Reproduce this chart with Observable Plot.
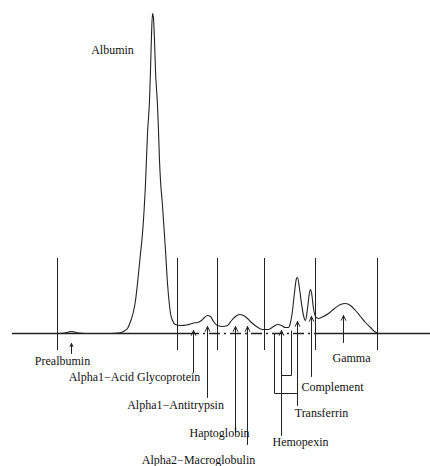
<!DOCTYPE html>
<html>
<head>
<meta charset="utf-8">
<script src="https://cdn.jsdelivr.net/npm/d3@7"></script>
<script src="https://cdn.jsdelivr.net/npm/@observablehq/plot@0.6"></script>
<style>
  html, body { margin: 0; padding: 0; background: #fff; }
  #chart svg { display: block; }
</style>
</head>
<body>
<div id="chart"></div>
<script>
// Densitometry trace: mobility (x) and density (y, 0 = baseline)
const mobility = [12,40,58,64,68,71,74,78,84,110,118,123,127,130,133,135,138,140,142,145,147,149,150,151,152,153,154,155,157,158,159,160,162,165,167,169,170,172,175,180,186,190,193,197,201,204,207,210,213,217,222,227,231,235,239,243,247,251,256,262,268,273,277,281,285,288,290,292,294,296,297,299,301,303,305,307,309,310,311,313,315,318,323,328,334,340,345,350,355,360,365,370,374,378];
const density  = [0,0,0,0.5,1.5,2,1.5,0.5,0,0,0.5,2,5,12,22,33,60,80,100,150,200,233,263,298,320,315,293,263,228,203,173,153,128,83,50,28,20,13,9,8,8.5,9.5,10.5,11,13,16,18,17,12,8,7,8,13,17,19,18,15,11,7,4,4,7,9,8,6,6,11,23,41,55,56,45,30,18,13,25,41,44,41,25,17,15,17,20,25,29,30,28,23,17,11,6,2,0];

// Fraction dividers
const dividerX = [57, 177, 217, 264, 315, 377];
const dividerTop = 75;
const dividerBottom = -17;

// Protein arrows
const proteinNames = ["Prealbumin","Alpha1\u2212Acid Glycoprotein","Alpha1\u2212Antitrypsin","Haptoglobin","Alpha2\u2212Macroglobulin","Hemopexin","Transferrin","Complement","Gamma"];
const arrowX    = [71, 193, 207, 235, 247, 281, 297, 311, 343];
const arrowTip  = [-10, 3, 7, 7, 7, 3, 12, 17, 18];
const arrowTail = [-20, -39, -64, -99, -111, -102, -72, -43, -9];

// Label positions
const labelText = ["Albumin", ...proteinNames];
const labelX = [112, 62, 134, 175, 219, 198, 300, 321, 332, 351];
const labelY = [283, -28, -44, -72, -100, -127, -109, -80, -54, -25];

// Bracket connector segments
const bracketX1 = [274, 274, 291, 281];
const bracketY1 = [0, -60, 3, -42];
const bracketX2 = [274, 297, 291, 291];
const bracketY2 = [-60, -60, -42, -42];

const trace = mobility.map((m, i) => ({m, d: density[i]}));
const arrows = arrowX.map((x, i) => ({x, tip: arrowTip[i], tail: arrowTail[i]}));
const labels = labelText.map((t, i) => ({t, x: labelX[i], y: labelY[i]}));
const brackets = bracketX1.map((x1, i) => ({x1, y1: bracketY1[i], x2: bracketX2[i], y2: bracketY2[i]}));
const dividers = dividerX.map(x => ({x}));

const ink = "#222";

const chart = Plot.plot({
  width: 430,
  height: 466,
  margin: 0,
  x: {domain: [0, 430], axis: null},
  y: {domain: [-133, 333], axis: null},
  style: {background: "#fff", fontFamily: "'Liberation Serif', 'DejaVu Serif', serif", fontSize: "12px"},
  marks: [
    // baseline
    Plot.ruleY([0], {x1: 12, x2: 188, stroke: ink, strokeWidth: 1.3}),
    Plot.ruleY([0], {x1: 188, x2: 320, stroke: ink, strokeWidth: 1.3, strokeDasharray: "11,4,2,4"}),
    Plot.ruleY([0], {x1: 320, x2: 430, stroke: ink, strokeWidth: 1.3}),
    // dividers
    Plot.ruleX(dividers, {x: "x", y1: dividerBottom, y2: dividerTop, stroke: ink, strokeWidth: 1}),
    // trace
    Plot.line(trace, {x: "m", y: "d", curve: "monotone-x", stroke: ink, strokeWidth: 1.1}),
    // brackets
    Plot.link(brackets, {x1: "x1", y1: "y1", x2: "x2", y2: "y2", stroke: ink, strokeWidth: 1}),
    // arrows
    Plot.arrow(arrows, {x1: "x", x2: "x", y1: "tail", y2: "tip", stroke: ink, strokeWidth: 1, headLength: 8, headAngle: 50}),
    // labels
    Plot.text(labels, {x: "x", y: "y", text: "t", fill: "#111", textAnchor: "middle", lineAnchor: "middle", fontSize: 12})
  ]
});
document.getElementById("chart").appendChild(chart);
</script>
</body>
</html>
